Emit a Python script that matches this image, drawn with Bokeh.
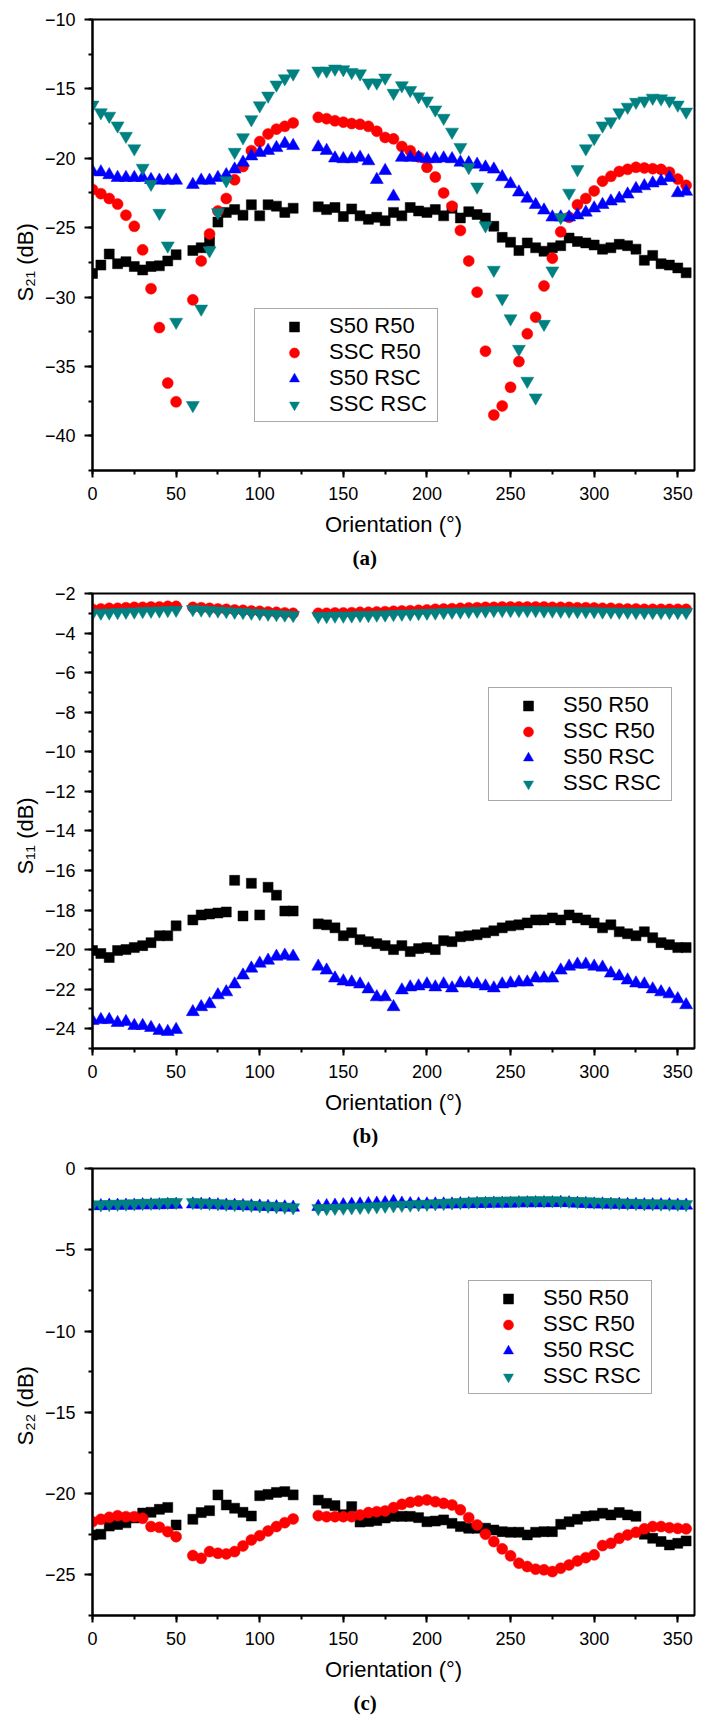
from bokeh.plotting import figure
from bokeh.layouts import column
from bokeh.models import Range1d, SingleIntervalTicker, Legend, LegendItem, Title
from bokeh.embed import file_html
from bokeh.resources import INLINE

# ---------------------------------------------------------------------------
# Measured S-parameters versus antenna orientation (degrees)
# ---------------------------------------------------------------------------
angle_deg = [0, 5, 10, 15, 20, 25, 30, 35, 40, 45, 50,
             60, 65, 70, 75, 80, 85, 90, 95, 100, 105, 110, 115, 120,
             135, 140, 145, 150, 155, 160, 165, 170, 175, 180, 185, 190, 195, 200,
             205, 210, 215, 220, 225, 230, 235, 240, 245, 250, 255, 260, 265, 270,
             275, 280, 285, 290, 295, 300, 305, 310, 315, 320, 325, 330, 335, 340,
             345, 350, 355]

# (a) transmission S21 (dB)
s21_s50_r50 = [-28.3, -27.7, -26.9, -27.6, -27.45, -27.8, -28.05, -27.8, -27.75, -27.4, -26.95,
               -26.65, -26.45, -26.0, -24.6, -23.9, -23.7, -24.1, -23.35, -24.15, -23.35, -23.45, -23.9, -23.6,
               -23.5, -23.7, -23.55, -24.2, -23.65, -24.15, -24.4, -24.25, -24.5, -23.9, -24.15, -23.55, -23.8, -23.9,
               -23.7, -24.15, -23.6, -24.3, -23.85, -24.05, -24.3, -24.9, -25.7, -26.05, -26.65, -26.1, -26.45, -26.7,
               -26.45, -26.3, -25.75, -26.0, -26.1, -26.25, -26.55, -26.45, -26.2, -26.3, -26.55, -27.35, -27.0, -27.6,
               -27.7, -27.9, -28.25]
s21_ssc_r50 = [-22.25, -22.55, -22.9, -23.3, -24.1, -24.9, -26.6, -29.4, -32.2, -36.2, -37.55,
               -30.2, -27.4, -25.45, -23.8, -22.9, -21.55, -20.6, -19.45, -18.8, -18.25, -17.9, -17.7, -17.45,
               -17.05, -17.15, -17.3, -17.4, -17.5, -17.55, -17.7, -18.05, -18.5, -18.6, -19.15, -19.45, -19.9, -20.65,
               -21.35, -22.5, -23.45, -25.2, -27.4, -29.65, -33.9, -38.5, -37.85, -36.5, -34.65, -32.65, -31.45, -29.2,
               -27.2, -25.3, -24.25, -23.35, -22.9, -22.35, -21.65, -21.3, -20.95, -20.8, -20.65, -20.7, -20.75, -20.8,
               -21.0, -21.5, -21.95]
s21_s50_rsc = [-20.95, -21.0, -21.2, -21.4, -21.4, -21.4, -21.4, -21.55, -21.6, -21.6, -21.6,
               -21.9, -21.6, -21.6, -21.4, -21.2, -20.8, -20.3, -19.85, -19.6, -19.45, -19.25, -18.95, -19.1,
               -19.2, -19.45, -20.0, -20.05, -20.05, -19.95, -20.2, -21.55, -20.9, -22.75, -19.95, -19.95, -19.95, -20.05,
               -20.05, -20.0, -20.05, -20.3, -20.35, -20.45, -20.65, -20.8, -21.35, -21.85, -22.45, -22.9, -23.35, -23.75,
               -24.25, -24.25, -24.25, -24.1, -23.9, -23.6, -23.35, -23.1, -22.9, -22.6, -22.2, -22.0, -21.8, -21.65,
               -21.4, -22.5, -22.4]
s21_ssc_rsc = [-16.15, -16.7, -16.95, -17.65, -18.4, -19.3, -20.7, -21.85, -23.95, -26.3, -31.8,
               -37.8, -30.85, -26.65, -23.9, -21.6, -19.55, -18.5, -17.2, -16.2, -15.5, -14.7, -14.25, -13.9,
               -13.7, -13.7, -13.55, -13.6, -13.8, -13.9, -14.55, -14.55, -14.2, -15.3, -14.75, -15.1, -15.55, -15.85,
               -16.5, -17.1, -18.1, -19.2, -20.65, -22.05, -24.85, -28.05, -30.1, -31.55, -33.75, -36.05, -37.25, -31.95,
               -28.1, -24.25, -22.5, -20.8, -19.3, -18.55, -17.65, -17.35, -16.7, -16.3, -15.95, -15.85, -15.65, -15.7,
               -15.85, -16.15, -16.65]

# (b) reflection S11 (dB)
s11_s50_r50 = [-20.05, -20.2, -20.4, -20.05, -20.0, -19.9, -19.8, -19.65, -19.3, -19.3, -18.8,
               -18.5, -18.25, -18.2, -18.15, -18.1, -16.5, -18.3, -16.65, -18.25, -16.85, -17.25, -18.05, -18.05,
               -18.7, -18.75, -18.9, -19.3, -19.15, -19.5, -19.6, -19.7, -19.8, -20.0, -19.8, -20.1, -19.95, -19.9,
               -20.0, -19.55, -19.6, -19.35, -19.3, -19.25, -19.15, -19.05, -18.9, -18.8, -18.75, -18.65, -18.5, -18.5,
               -18.4, -18.5, -18.25, -18.4, -18.5, -18.65, -18.9, -18.75, -19.1, -19.2, -19.3, -19.1, -19.4, -19.65,
               -19.75, -19.9, -19.9]
s11_ssc_r50 = [-2.8, -2.78, -2.75, -2.75, -2.72, -2.7, -2.7, -2.68, -2.68, -2.65, -2.65,
               -2.7, -2.72, -2.75, -2.78, -2.8, -2.83, -2.85, -2.88, -2.9, -2.93, -2.95, -2.98, -3.0,
               -3.0, -3.0, -2.98, -2.98, -2.97, -2.95, -2.95, -2.93, -2.92, -2.9, -2.88, -2.87, -2.85, -2.83,
               -2.8, -2.78, -2.77, -2.75, -2.73, -2.72, -2.7, -2.7, -2.68, -2.68, -2.68, -2.68, -2.68, -2.68,
               -2.7, -2.7, -2.7, -2.72, -2.72, -2.73, -2.75, -2.75, -2.77, -2.78, -2.78, -2.8, -2.8, -2.8,
               -2.8, -2.8, -2.8]
s11_s50_rsc = [-23.6, -23.55, -23.55, -23.7, -23.65, -23.85, -23.85, -23.95, -24.1, -24.15, -24.05,
               -23.15, -22.9, -22.75, -22.3, -22.15, -21.75, -21.3, -20.95, -20.7, -20.55, -20.35, -20.3, -20.35,
               -20.85, -21.05, -21.45, -21.6, -21.65, -21.75, -22.0, -22.4, -22.4, -22.9, -22.05, -21.9, -21.85, -21.75,
               -21.9, -21.75, -21.95, -21.7, -21.7, -21.75, -21.85, -21.95, -21.75, -21.7, -21.65, -21.65, -21.45, -21.45,
               -21.45, -21.05, -20.85, -20.75, -20.75, -20.85, -20.9, -21.2, -21.35, -21.55, -21.7, -21.75, -22.0, -22.15,
               -22.25, -22.5, -22.8]
s11_ssc_rsc = [-3.0, -2.98, -2.97, -2.95, -2.93, -2.92, -2.9, -2.88, -2.87, -2.85, -2.83,
               -2.8, -2.82, -2.85, -2.87, -2.9, -2.93, -2.95, -2.98, -3.0, -3.03, -3.05, -3.08, -3.1,
               -3.15, -3.15, -3.13, -3.13, -3.12, -3.1, -3.1, -3.08, -3.07, -3.05, -3.03, -3.02, -3.0, -2.98,
               -2.97, -2.95, -2.93, -2.92, -2.9, -2.88, -2.87, -2.85, -2.85, -2.85, -2.85, -2.85, -2.85, -2.87,
               -2.87, -2.88, -2.88, -2.9, -2.9, -2.9, -2.92, -2.92, -2.93, -2.93, -2.95, -2.95, -2.95, -2.95,
               -2.95, -2.95, -2.95]

# (c) reflection S22 (dB)
s22_s50_r50 = [-22.55, -22.5, -22.0, -21.9, -21.8, -21.5, -21.2, -21.15, -20.97, -20.85, -21.93,
               -21.58, -21.17, -21.05, -20.08, -20.7, -20.9, -21.15, -21.38, -20.13, -20.05, -19.93, -19.88, -20.08,
               -20.4, -20.6, -20.74, -21.3, -20.8, -21.75, -21.72, -21.66, -21.5, -21.4, -21.4, -21.4, -21.48, -21.73,
               -21.69, -21.62, -21.83, -22.03, -22.13, -22.13, -22.13, -22.24, -22.34, -22.38, -22.38, -22.54, -22.38, -22.34,
               -22.34, -21.89, -21.73, -21.58, -21.4, -21.36, -21.21, -21.31, -21.17, -21.31, -21.4, -22.5, -22.75, -22.95,
               -23.16, -23.06, -22.91]
s22_ssc_r50 = [-21.73, -21.58, -21.46, -21.36, -21.42, -21.42, -21.52, -22.03, -22.07, -22.34, -22.65,
               -23.81, -23.98, -23.57, -23.67, -23.71, -23.57, -23.22, -22.85, -22.59, -22.3, -22.03, -21.79, -21.56,
               -21.36, -21.42, -21.42, -21.42, -21.42, -21.31, -21.17, -21.11, -21.07, -20.86, -20.66, -20.54, -20.46, -20.39,
               -20.5, -20.6, -20.7, -21.0, -21.48, -21.93, -22.5, -22.95, -23.4, -23.83, -24.28, -24.49, -24.65, -24.69,
               -24.8, -24.59, -24.39, -24.14, -23.94, -23.77, -23.2, -23.06, -22.75, -22.54, -22.38, -22.17, -22.03, -22.03,
               -22.1, -22.14, -22.17]
s22_s50_rsc = [-2.3, -2.3, -2.28, -2.28, -2.27, -2.27, -2.25, -2.25, -2.25, -2.23, -2.22,
               -2.2, -2.22, -2.22, -2.25, -2.27, -2.28, -2.3, -2.32, -2.33, -2.35, -2.37, -2.38, -2.4,
               -2.35, -2.3, -2.28, -2.25, -2.22, -2.2, -2.18, -2.15, -2.12, -2.05, -2.15, -2.18, -2.2, -2.2,
               -2.2, -2.2, -2.2, -2.18, -2.18, -2.17, -2.17, -2.15, -2.15, -2.15, -2.13, -2.13, -2.12, -2.12,
               -2.12, -2.1, -2.12, -2.15, -2.17, -2.2, -2.2, -2.22, -2.22, -2.23, -2.23, -2.25, -2.25, -2.25,
               -2.25, -2.27, -2.27]
s22_ssc_rsc = [-2.25, -2.22, -2.2, -2.18, -2.17, -2.15, -2.13, -2.12, -2.1, -2.08, -2.07,
               -2.08, -2.1, -2.12, -2.15, -2.18, -2.2, -2.22, -2.25, -2.28, -2.3, -2.33, -2.36, -2.4,
               -2.45, -2.45, -2.43, -2.42, -2.4, -2.38, -2.35, -2.33, -2.3, -2.28, -2.25, -2.23, -2.2, -2.18,
               -2.15, -2.13, -2.1, -2.08, -2.05, -2.03, -2.02, -2.0, -2.0, -1.98, -1.98, -1.97, -1.97, -1.97,
               -1.97, -1.98, -2.0, -2.02, -2.03, -2.05, -2.07, -2.08, -2.1, -2.12, -2.13, -2.15, -2.15, -2.17,
               -2.17, -2.18, -2.2]

series_names = ["S50 R50", "SSC R50", "S50 RSC", "SSC RSC"]
series_colors = ["#000000", "#FF0000", "#0000FF", "#008080"]
series_markers = ["square", "circle", "triangle", "inverted_triangle"]
series_sizes = [10, 11, 13, 13]

FONT = "Liberation Sans"


def make_panel(height, y_lo, y_hi, y_step, borders, ylabel, ylabel_offset,
               caption, caption_offset, values, legend_at):
    top, bottom, left, right = borders
    p = figure(width=705, height=height, title=None,
               x_range=Range1d(0, 360), y_range=Range1d(y_lo, y_hi),
               output_backend="svg", toolbar_location=None,
               min_border_top=top, min_border_bottom=bottom,
               min_border_left=left, min_border_right=right)
    p.xgrid.visible = False
    p.ygrid.visible = False
    p.background_fill_color = "white"
    p.border_fill_color = "white"
    p.outline_line_color = "black"
    p.outline_line_width = 2
    p.outline_line_alpha = 1.0

    p.xaxis.ticker = SingleIntervalTicker(interval=50, num_minor_ticks=2)
    p.yaxis.ticker = SingleIntervalTicker(interval=y_step, num_minor_ticks=2)
    for ax in (p.xaxis[0], p.yaxis[0]):
        ax.axis_line_width = 2
        ax.axis_line_color = "black"
        ax.major_tick_line_width = 2
        ax.minor_tick_line_width = 2
        ax.major_tick_line_color = "black"
        ax.minor_tick_line_color = "black"
        ax.major_tick_in = 0
        ax.minor_tick_in = 0
        ax.minor_tick_out = 4
        ax.major_label_text_font = FONT
        ax.major_label_text_font_size = "18px"
        ax.major_label_text_color = "black"
    p.xaxis.major_tick_out = 7
    p.yaxis.major_tick_out = 8
    p.xaxis.major_label_standoff = 9
    p.yaxis.major_label_standoff = 9

    p.xaxis.axis_label = "Orientation (°)"
    p.xaxis.axis_label_standoff = 9
    p.xaxis.axis_label_text_font = FONT
    p.xaxis.axis_label_text_font_size = "22px"
    p.xaxis.axis_label_text_font_style = "normal"
    p.xaxis.axis_label_text_color = "black"

    # vertical y-axis title, read bottom to top, starting ylabel_offset px above the frame bottom
    p.add_layout(Title(text=ylabel, align="left", offset=ylabel_offset, standoff=8,
                       text_font=FONT, text_font_size="22px",
                       text_font_style="normal", text_color="black"), "left")

    items = []
    for name, color, marker, size, ys in zip(series_names, series_colors,
                                             series_markers, series_sizes, values):
        r = p.scatter(angle_deg, ys, marker=marker, size=size,
                      fill_color=color, line_color=color, line_width=0.5)
        items.append(LegendItem(label=name, renderers=[r]))

    legend = Legend(items=items, location=legend_at,
                    border_line_color="#555555", border_line_width=1,
                    background_fill_color="white", background_fill_alpha=1.0,
                    padding=4, spacing=0, margin=0,
                    glyph_width=70, glyph_height=25, label_height=25,
                    label_width=104, label_standoff=0,
                    label_text_font=FONT, label_text_font_size="22px",
                    label_text_color="black")
    p.add_layout(legend)

    # panel caption under the axis title
    p.add_layout(Title(text=caption, align="left", offset=caption_offset, standoff=8,
                       text_font="Liberation Serif", text_font_size="21px",
                       text_font_style="bold", text_color="black"), "below")
    return p


panel_a = make_panel(575, -42.5, -10, 5, (19, 105, 92, 4), "S₂₁ (dB)", 169, "(a)", 260,
                     [s21_s50_r50, s21_ssc_r50, s21_s50_rsc, s21_ssc_rsc], (162, 48))
panel_b = make_panel(580, -25, -2, 2, (18, 107, 92, 0), "S₁₁ (dB)", 174, "(b)", 260,
                     [s11_s50_r50, s11_ssc_r50, s11_s50_rsc, s11_ssc_rsc], (396, 247))
panel_c = make_panel(569, -27.5, 0, 5, (13, 109, 91, 11), "S₂₂ (dB)", 170, "(c)", 261,
                     [s22_s50_r50, s22_ssc_r50, s22_s50_rsc, s22_ssc_rsc], (376, 221))

page = column(panel_a, panel_b, panel_c, spacing=0)

open("out.html", "w").write(file_html(page, INLINE, title="S-parameters vs orientation"))
